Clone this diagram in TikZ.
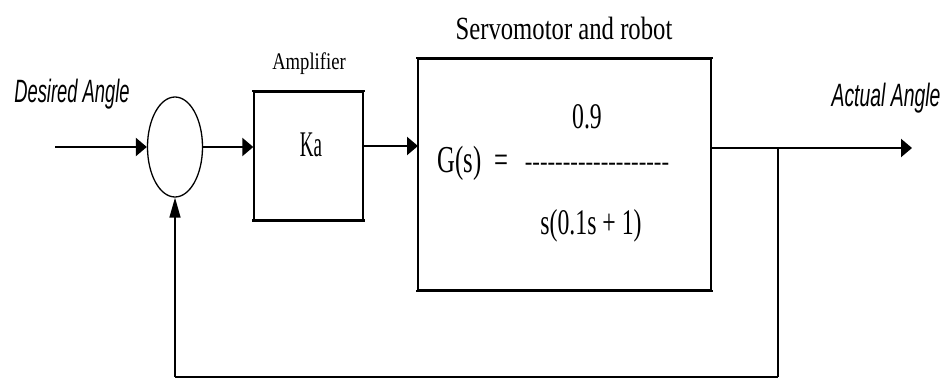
\documentclass[tikz,border=0pt]{standalone}
\usepackage{graphicx}
\usepackage{fontspec}
\setmainfont{Liberation Serif}
\newfontfamily\labelfont{Liberation Sans}
\usetikzlibrary{arrows.meta,shapes.geometric}
\newcommand\hy{\hbox{-}}
\newcommand\dashrow{\hy\hy\hy\hy\hy\hy\hy\hy\hy\hy\hy\hy\hy\hy\hy\hy\hy\hy\hy}
\begin{document}
\begin{tikzpicture}[x=1pt,y=1pt,
  blk/.style={draw,line width=1.4pt},
  edge/.style={line width=2.4pt,line cap=rect},
  wire/.style={line width=2.2pt},
  vwire/.style={line width=1.5pt},
  arr/.style={wire,-{Triangle[length=11pt,width=18pt]}},
  varr/.style={vwire,-{Triangle[length=20pt,width=11pt]}},
  sig/.style={font=\labelfont\itshape\fontsize{17}{17}\selectfont,inner sep=0pt},
  txt/.style={font=\fontsize{19}{19}\selectfont,inner sep=0pt}]
\useasboundingbox (0,0) rectangle (944,383);
% summing junction
\node[draw,ellipse,line width=1.3pt,minimum width=55pt,minimum height=100pt,inner sep=0pt] (sum) at (175,236) {};
% amplifier
\node[blk,minimum width=109pt,minimum height=128pt,inner sep=0pt] (amp) at (308.5,227) {};
\draw[edge] (amp.north west) -- (amp.north east);
\draw[edge] (amp.south west) -- (amp.south east);
\node[txt,font=\fontsize{14}{14}\selectfont] (amplbl) at (309,319) {\scalebox{1.33}[1.7]{Amplifier}};
\node[txt] (ka) at (311,238) {\scalebox{1.0}[1.9]{Ka}};
% servo
\node[blk,minimum width=293pt,minimum height=231pt,inner sep=0pt] (servo) at (564.5,208.5) {};
\draw[edge] (servo.north west) -- (servo.north east);
\draw[edge] (servo.south west) -- (servo.south east);
\node[txt] (servolbl) at (564,355) {\scalebox{1.3}[1.7]{Servomotor and robot}};
\node[txt] (gs) at (473,220) {\scalebox{1.3}[2.0]{G(s) \ =}};
\node[txt] (num) at (587,266) {\scalebox{1.25}[1.9]{0.9}};
\node[txt] (bar) at (597,216) {\scalebox{1.2}[1.4]{\dashrow}};
\node[txt] (den) at (591,157) {\scalebox{1.25}[1.9]{s(0.1s + 1)}};
% labels
\node[sig] (din) at (72,289) {\scalebox{1.08}[1.9]{Desired Angle}};
\node[sig] (dout) at (886,285) {\scalebox{1.14}[1.9]{Actual Angle}};
% coordinates
\coordinate (start) at (55,236);
\coordinate (s2) at (418,237);
\coordinate (branch) at (778,235);
\coordinate (end) at (912,235);
\coordinate (br) at (778,6);
\coordinate (bl) at (175,6);
% connectors
\draw[arr] (start) -- (sum.west);
\draw[arr] (sum.east) -- (sum.east -| amp.west);
\draw[arr] (amp.east |- s2) -- (s2);
\draw[arr] (servo.east |- end) -- (end);
\draw[vwire] (branch) -- (br);
\draw[wire] (br) -- (bl);
\draw[varr] (bl) -- (sum.south);
\end{tikzpicture}
\end{document}
